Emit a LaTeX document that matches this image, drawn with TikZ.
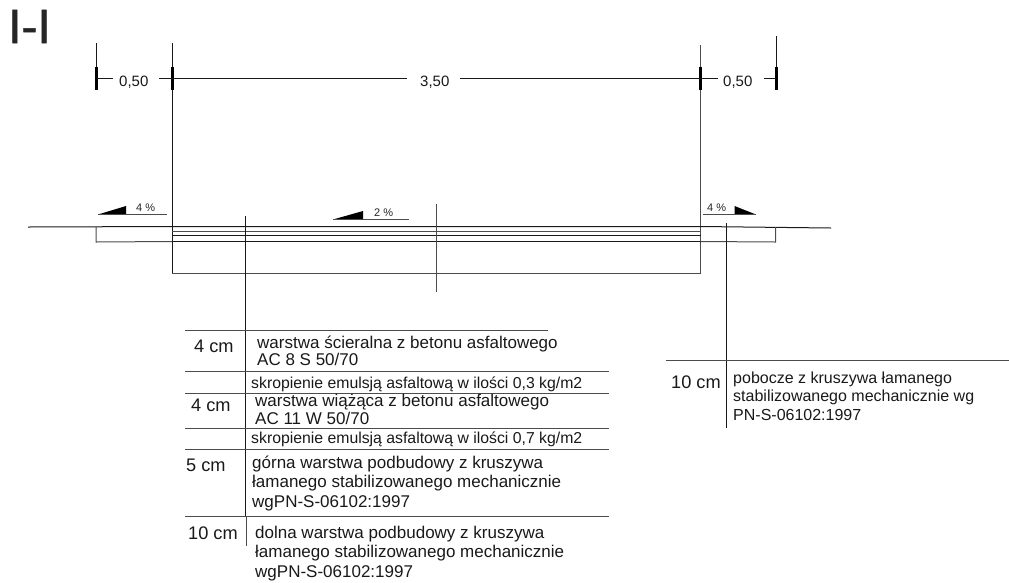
\documentclass[tikz,border=0pt]{standalone}
\usepackage{fontspec}
\setmainfont{Liberation Sans}
\newfontfamily\titlefont[FakeBold=1.2]{Liberation Sans}
\tikzset{
  ln/.style={line width=1pt,draw=black!90},
  thin/.style={line width=1pt,draw=black!70},
  tick/.style={line width=3pt,draw=black},
  lbl/.style={inner sep=0pt,anchor=base west,font=\fontsize{15}{16}\selectfont,text=black!90},
  thick lbl/.style={inner sep=0pt,anchor=base west,font=\fontsize{18.2}{20}\selectfont,text=black!90},
  desc/.style={inner sep=0pt,anchor=base west,font=\fontsize{17}{18}\selectfont,text=black!90},
  descs/.style={inner sep=0pt,anchor=base west,font=\fontsize{15.8}{18}\selectfont,text=black!90},
  descr/.style={inner sep=0pt,anchor=base west,font=\fontsize{16}{18}\selectfont,text=black!90},
  pct/.style={inner sep=0pt,anchor=base west,font=\fontsize{11}{12}\selectfont,text=black!85},
}
\begin{document}
\begin{tikzpicture}[x=1pt,y=-1pt]
\useasboundingbox (0,0) rectangle (1009,582);
\node[inner sep=0pt,anchor=base west,font=\titlefont\fontsize{48}{48}\selectfont,text=black!85] (title) at (8,43) {I-I};
% dimension ticks / extension lines
\coordinate (e1t) at (96.5,43); \coordinate (e1b) at (96.5,89);
\coordinate (e2t) at (172,43); \coordinate (e2b) at (172,273);
\coordinate (e3t) at (700.5,45); \coordinate (e3b) at (700.5,273);
\coordinate (e4t) at (776.5,36); \coordinate (e4b) at (776.5,89);
\draw[ln] (e1t)--(e1b); \draw[ln] (e2t)--(e2b); \draw[thin] (e3t)--(e3b); \draw[ln] (e4t)--(e4b);
\foreach \x in {96.5,172,700.5,776.5} \draw[tick] (\x,67)--(\x,90);
\node[lbl] (d1) at (119,86.5) {0,50};
\node[lbl] (d2) at (420,86.5) {3,50};
\node[lbl] (d3) at (723,86.5) {0,50};
\draw[ln] (96.5,78.5)--(113,78.5) (159,78.5)--(407,78.5) (460,78.5)--(718,78.5) (764,78.5)--(776,78.5);
% pavement
\draw[ln] (28,227)--(172,226.5)--(700.5,226.5)--(831,228);
\draw[thin] (172,231.5)--(700.5,231.5);
\draw[ln] (172,235.5)--(700.5,235.5);
\draw[ln] (172,241.5)--(700.5,241.5);
\draw[thin] (172,273.5)--(700.5,273.5);
\draw[thin] (96,227)--(96,242)--(172,241.5);
\draw[thin] (775.5,227)--(775.5,242)--(700.5,241.5);
% slopes
\fill[black] (98,214.5)--(126,206)--(126,214.5)--cycle;
\draw[thin] (98,214)--(167,214);
\node[pct] (p1) at (136,211.5) {4 \%};
\fill[black] (333,219.5)--(363,211)--(363,219.5)--cycle;
\draw[thin] (333,219)--(409,219);
\node[pct] (p2) at (374,216) {2 \%};
\fill[black] (734.5,206)--(756,214.5)--(734.5,214.5)--cycle;
\draw[thin] (703,214)--(756,214);
\node[pct] (p3) at (707,211.5) {4 \%};
% leaders
\draw[ln] (245.5,216)--(245.5,517);
\draw[thin] (246.5,517)--(246.5,546);
\draw[thin] (436.5,204)--(436.5,292);
\draw[ln] (726.5,223)--(726.5,428);
% left table
\draw[thin] (185,330.5)--(548,330.5);
\draw[thin] (185,371.5)--(609,371.5);
\draw[thin] (185,393.5)--(609,393.5);
\draw[thin] (185,428.5)--(609,428.5);
\draw[thin] (185,449.5)--(609,449.5);
\draw[thin] (185,516.5)--(609,516.5);
\node[thick lbl] (a) at (194,352.5) {4 cm};
\node[thick lbl] (b) at (191,411.5) {4 cm};
\node[thick lbl] (c) at (186,471.5) {5 cm};
\node[thick lbl] (e) at (188,539.5) {10 cm};
\node[desc] at (257,348) {warstwa ścieralna z betonu asfaltowego};
\node[desc] at (257,365.5) {AC 8 S 50/70};
\node[descs] at (251,388.5) {skropienie emulsją asfaltową w ilości 0,3 kg/m2};
\node[desc] at (255,406.5) {warstwa wiążąca z betonu asfaltowego};
\node[desc] at (255,424.5) {AC 11 W 50/70};
\node[descs] at (251,443) {skropienie emulsją asfaltową w ilości 0,7 kg/m2};
\node[desc] at (252,468) {górna warstwa podbudowy z kruszywa};
\node[desc] at (252,487) {łamanego stabilizowanego mechanicznie};
\node[desc] at (252,507) {wgPN-S-06102:1997};
\node[desc] at (255,538) {dolna warstwa podbudowy z kruszywa};
\node[desc] at (255,557) {łamanego stabilizowanego mechanicznie};
\node[desc] at (255,577) {wgPN-S-06102:1997};
% right table
\draw[thin] (666,360.5)--(1009,360.5);
\node[thick lbl] (f) at (671,388) {10 cm};
\node[descr] at (733,383) {pobocze z kruszywa łamanego};
\node[descr] at (733,401) {stabilizowanego mechanicznie wg};
\node[descr] at (733,420) {PN-S-06102:1997};
\end{tikzpicture}
\end{document}
